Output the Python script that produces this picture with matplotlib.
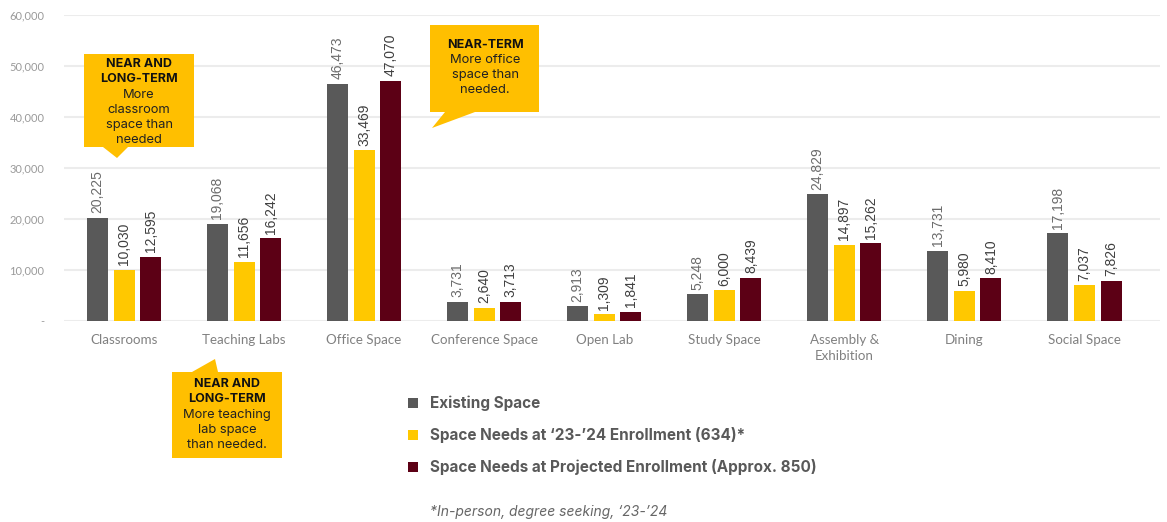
import matplotlib.pyplot as plt
from matplotlib.patches import Polygon, Rectangle
import numpy as np

# Data
categories = ["Classrooms", "Teaching Labs", "Office Space", "Conference Space",
              "Open Lab", "Study Space", "Assembly &\nExhibition", "Dining", "Social Space"]
existing = [20225, 19068, 46473, 3731, 2913, 5248, 24829, 13731, 17198]
needs_2324 = [10030, 11656, 33469, 2640, 1309, 6000, 14897, 5980, 7037]
needs_proj = [12595, 16242, 47070, 3713, 1841, 8439, 15262, 8410, 7826]
series_names = ["Existing Space",
                "Space Needs at \u201823-\u201924 Enrollment (634)*",
                "Space Needs at Projected Enrollment (Approx. 850)"]
yticks = [0, 10000, 20000, 30000, 40000, 50000, 60000]
ytick_labels = ["-", "10,000", "20,000", "30,000", "40,000", "50,000", "60,000"]

colors = ["#595959", "#FFC800", "#5C0015"]
label_colors = ["#6b6b6b", "#3f3f3f", "#3f3f3f"]

W, H = 1167, 522
fig = plt.figure(figsize=(W / 100, H / 100), dpi=100)
ax = fig.add_axes([64 / W, 1 - 321 / H, (1160 - 64) / W, (321 - 15) / H])

x = np.arange(len(categories))
width = 0.175
step = 0.222
for i, (vals, c, lc) in enumerate(zip([existing, needs_2324, needs_proj], colors, label_colors)):
    pos = x + (i - 1) * step
    ax.bar(pos, vals, width, color=c, zorder=3)
    for px_, v in zip(pos, vals):
        ax.text(px_, v + 900, f"{v:,}", rotation=90, ha="center", va="bottom",
                fontsize=10, color=lc, family="Liberation Sans")

ax.set_ylim(0, 60000)
ax.set_xlim(-0.5, 8.63)
ax.set_yticks(yticks)
ax.set_yticklabels(ytick_labels, fontsize=8, color="#9a9a9a", family="Lato")
ax.set_xticks(x)
ax.set_xticklabels(categories, fontsize=9.6, color="#808080", family="Lato",
                   linespacing=1.5, va="top")
ax.tick_params(length=0, axis="both")
ax.tick_params(axis="x", pad=9)
ax.tick_params(axis="y", pad=14)
ax.yaxis.grid(True, color="#ececec", lw=1.5, zorder=0)
for s in ax.spines.values():
    s.set_visible(False)


def px(pts):
    return [(a / W, 1 - b / H) for a, b in pts]


box_color = "#FFBF00"
callouts = [
    ([(84, 54), (194, 54), (194, 147), (128, 147), (117, 158), (103, 147), (84, 147)],
     139, 58, "NEAR AND\nLONG-TERM", "More\nclassroom\nspace than\nneeded"),
    ([(430, 25), (539, 25), (539, 112), (475, 112), (432, 128), (445, 112), (430, 112)],
     485, 39, "NEAR-TERM", "More office\nspace than\nneeded."),
    ([(172, 372), (192, 372), (215, 359), (218, 372), (282, 372), (282, 458), (172, 458)],
     227, 378, "NEAR AND\nLONG-TERM", "More teaching\nlab space\nthan needed."),
]
for pts, tx, ty, head, body in callouts:
    fig.patches.append(Polygon(px(pts), closed=True, transform=fig.transFigure,
                               facecolor=box_color, edgecolor="none"))
    nhead = head.count("\n") + 1
    fig.text(tx / W, 1 - ty / H, head, ha="center", va="top", fontsize=9,
             fontweight="bold", family="Inter", color="#111111", linespacing=1.3)
    fig.text(tx / W, 1 - (ty + 15.3 * nhead) / H, body, ha="center", va="top",
             fontsize=9.3, family="Inter", color="#222222", linespacing=1.34)

# Legend
for i, (name, c) in enumerate(zip(series_names, colors)):
    yc = 403 + 32 * i
    fig.patches.append(Rectangle((408 / W, 1 - (yc + 5) / H), 10 / W, 10 / H,
                                 transform=fig.transFigure, facecolor=c, edgecolor="none"))
    fig.text(430 / W, 1 - yc / H, name, ha="left", va="center", fontsize=11,
             fontweight="bold", family="Inter", color="#595959")

fig.text(430 / W, 1 - 512 / H, "*In-person, degree seeking, \u201823-\u201924",
         ha="left", va="center", fontsize=10, style="italic", family="Inter",
         color="#666666")

fig.savefig("out.png", dpi=100)
